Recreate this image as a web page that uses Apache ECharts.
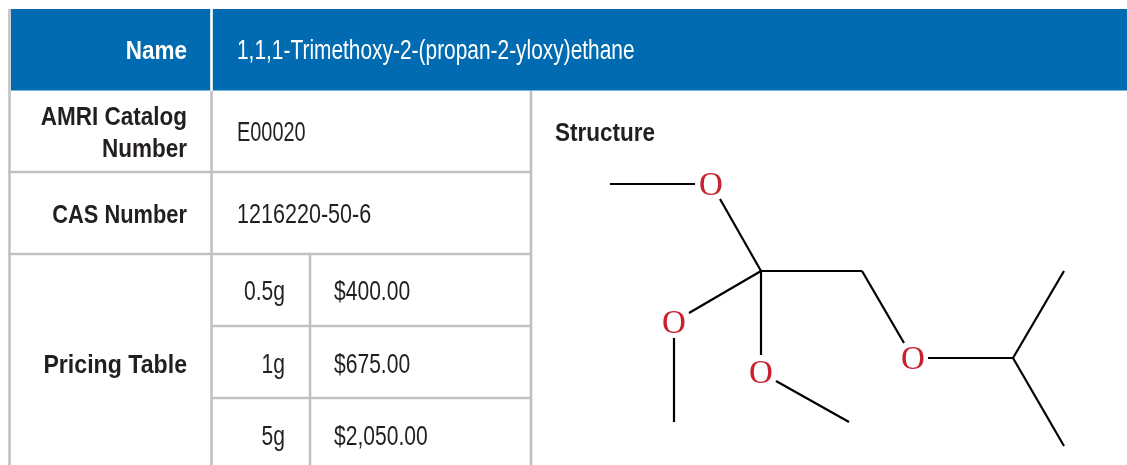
<!DOCTYPE html>
<html>
<head>
<meta charset="utf-8">
<style>
    html, body { margin: 0; padding: 0; background: #fff; }
    #chart { width: 1127px; height: 465px; }
</style>
<script src="https://cdn.jsdelivr.net/npm/echarts@6/dist/echarts.min.js"></script>
</head>
<body>
<div id="chart"></div>
<script>
const rowNames = ['Name', 'AMRI Catalog\nNumber', 'CAS Number', 'Pricing Table'];
const rowNameY = [52, 134, 216, 366];
const rowValues = ['1,1,1-Trimethoxy-2-(propan-2-yloxy)ethane', 'E00020', '1216220-50-6'];
const rowValueY = [52, 134, 216];
const packSizes = ['0.5g', '1g', '5g'];
const prices = ['$400.00', '$675.00', '$2,050.00'];
const priceY = [293, 366, 438];

// molecule in page units
const atomX = [711, 674, 761, 913];
const atomY = [186, 324, 374, 360];
const bonds = [
    [610, 184, 695, 184],
    [720, 199, 761, 271],
    [689, 313, 761, 271],
    [761, 271, 761, 355],
    [761, 271, 862, 271],
    [674, 338, 674, 422],
    [776, 381, 849, 422],
    [862, 271, 904, 343],
    [928, 358, 1013, 358],
    [1013, 358, 1064, 271],
    [1013, 358, 1064, 446]
];

// table rules: x1, y1, x2, y2
const grayRules = [
    [9.5, 9, 9.5, 465],
    [211.5, 91, 211.5, 465],
    [310, 254, 310, 465],
    [531, 91, 531, 465],
    [8, 172, 531, 172],
    [8, 254, 531, 254],
    [211, 326, 531, 326],
    [211, 398, 531, 398]
];

const textFont = '"Liberation Sans", sans-serif';
const dark = '#231f20';

// no condensed face installed, so squeeze the labels to the reference widths
const squeeze = {
    'CAS Number': 0.84,
    'Pricing Table': 0.89,
    'E00020': 0.737,
    '1216220-50-6': 0.798,
    '1,1,1-Trimethoxy-2-(propan-2-yloxy)ethane': 0.774
};

function segmentSeries(name, segments, color, width) {
    return {
        name: name,
        type: 'custom',
        coordinateSystem: 'cartesian2d',
        data: segments,
        encode: {x: [0, 2], y: [1, 3]},
        silent: true,
        renderItem: function (params, api) {
            const a = api.coord([api.value(0), api.value(1)]);
            const b = api.coord([api.value(2), api.value(3)]);
            return {
                type: 'line',
                shape: {x1: a[0], y1: a[1], x2: b[0], y2: b[1]},
                style: {stroke: color, lineWidth: width}
            };
        }
    };
}

function textSeries(name, items, align, style) {
    return {
        name: name,
        type: 'custom',
        coordinateSystem: 'cartesian2d',
        data: items.map(function (d) { return [d[0], d[1]]; }),
        silent: true,
        renderItem: function (params, api) {
            const p = api.coord([api.value(0), api.value(1)]);
            const text = items[params.dataIndex][2];
            return {
                type: 'text',
                x: p[0],
                y: p[1],
                scaleX: squeeze[text] || style.scaleX || 1,
                style: {
                    text: text,
                    fill: style.color,
                    font: style.font,
                    align: align,
                    verticalAlign: 'middle',
                    lineHeight: style.lineHeight
                }
            };
        }
    };
}

const chart = echarts.init(document.getElementById('chart'));

const nameItems = rowNames.map(function (t, i) { return [187, rowNameY[i], t]; });
const valueItems = rowValues.map(function (t, i) { return [237, rowValueY[i], t]; });
const boldStyle = {font: 'bold 26px ' + textFont, scaleX: 0.865};
const plainStyle = {font: '27px ' + textFont, scaleX: 0.78};

const option = {
    animation: false,
    backgroundColor: '#fff',
    grid: {left: 0, right: 0, top: 0, bottom: 0},
    xAxis: {type: 'value', min: 0, max: 1127, show: false},
    yAxis: {type: 'value', min: 0, max: 465, inverse: true, show: false},
    series: [
        {
            name: 'header band',
            type: 'custom',
            coordinateSystem: 'cartesian2d',
            data: [[11, 9, 1127, 90.5]],
            silent: true,
            renderItem: function (params, api) {
                const a = api.coord([api.value(0), api.value(1)]);
                const b = api.coord([api.value(2), api.value(3)]);
                return {
                    type: 'rect',
                    shape: {x: a[0], y: a[1], width: b[0] - a[0], height: b[1] - a[1]},
                    style: {fill: '#006bb1'}
                };
            }
        },
        segmentSeries('rules', grayRules, '#c0c1c5', 2.6),
        segmentSeries('header divider', [[211.5, 9, 211.5, 91]], '#ffffff', 2.6),
        segmentSeries('bonds', bonds, '#000000', 2.2),
        textSeries('names', nameItems.slice(0, 1), 'right',
            Object.assign({color: '#ffffff'}, boldStyle)),
        textSeries('names dark', nameItems.slice(1), 'right',
            Object.assign({color: dark, lineHeight: 32}, boldStyle)),
        textSeries('values', valueItems.slice(0, 1), 'left',
            Object.assign({color: '#ffffff'}, plainStyle)),
        textSeries('values dark', valueItems.slice(1), 'left',
            Object.assign({color: dark}, plainStyle)),
        textSeries('sizes', packSizes.map(function (t, i) { return [285, priceY[i], t]; }), 'right',
            Object.assign({color: dark}, plainStyle)),
        textSeries('prices', prices.map(function (t, i) { return [334, priceY[i], t]; }), 'left',
            Object.assign({color: dark}, plainStyle)),
        textSeries('structure', [[555, 134, 'Structure']], 'left',
            {color: dark, font: 'bold 25px ' + textFont, scaleX: 0.9}),
        textSeries('atoms', atomX.map(function (x, i) { return [x, atomY[i], 'O']; }), 'center',
            {color: '#c8202f', font: '33px "Liberation Serif", serif'})
    ]
};

chart.setOption(option);

window.addEventListener('resize', chart.resize.bind(chart));
</script>
</body>
</html>
